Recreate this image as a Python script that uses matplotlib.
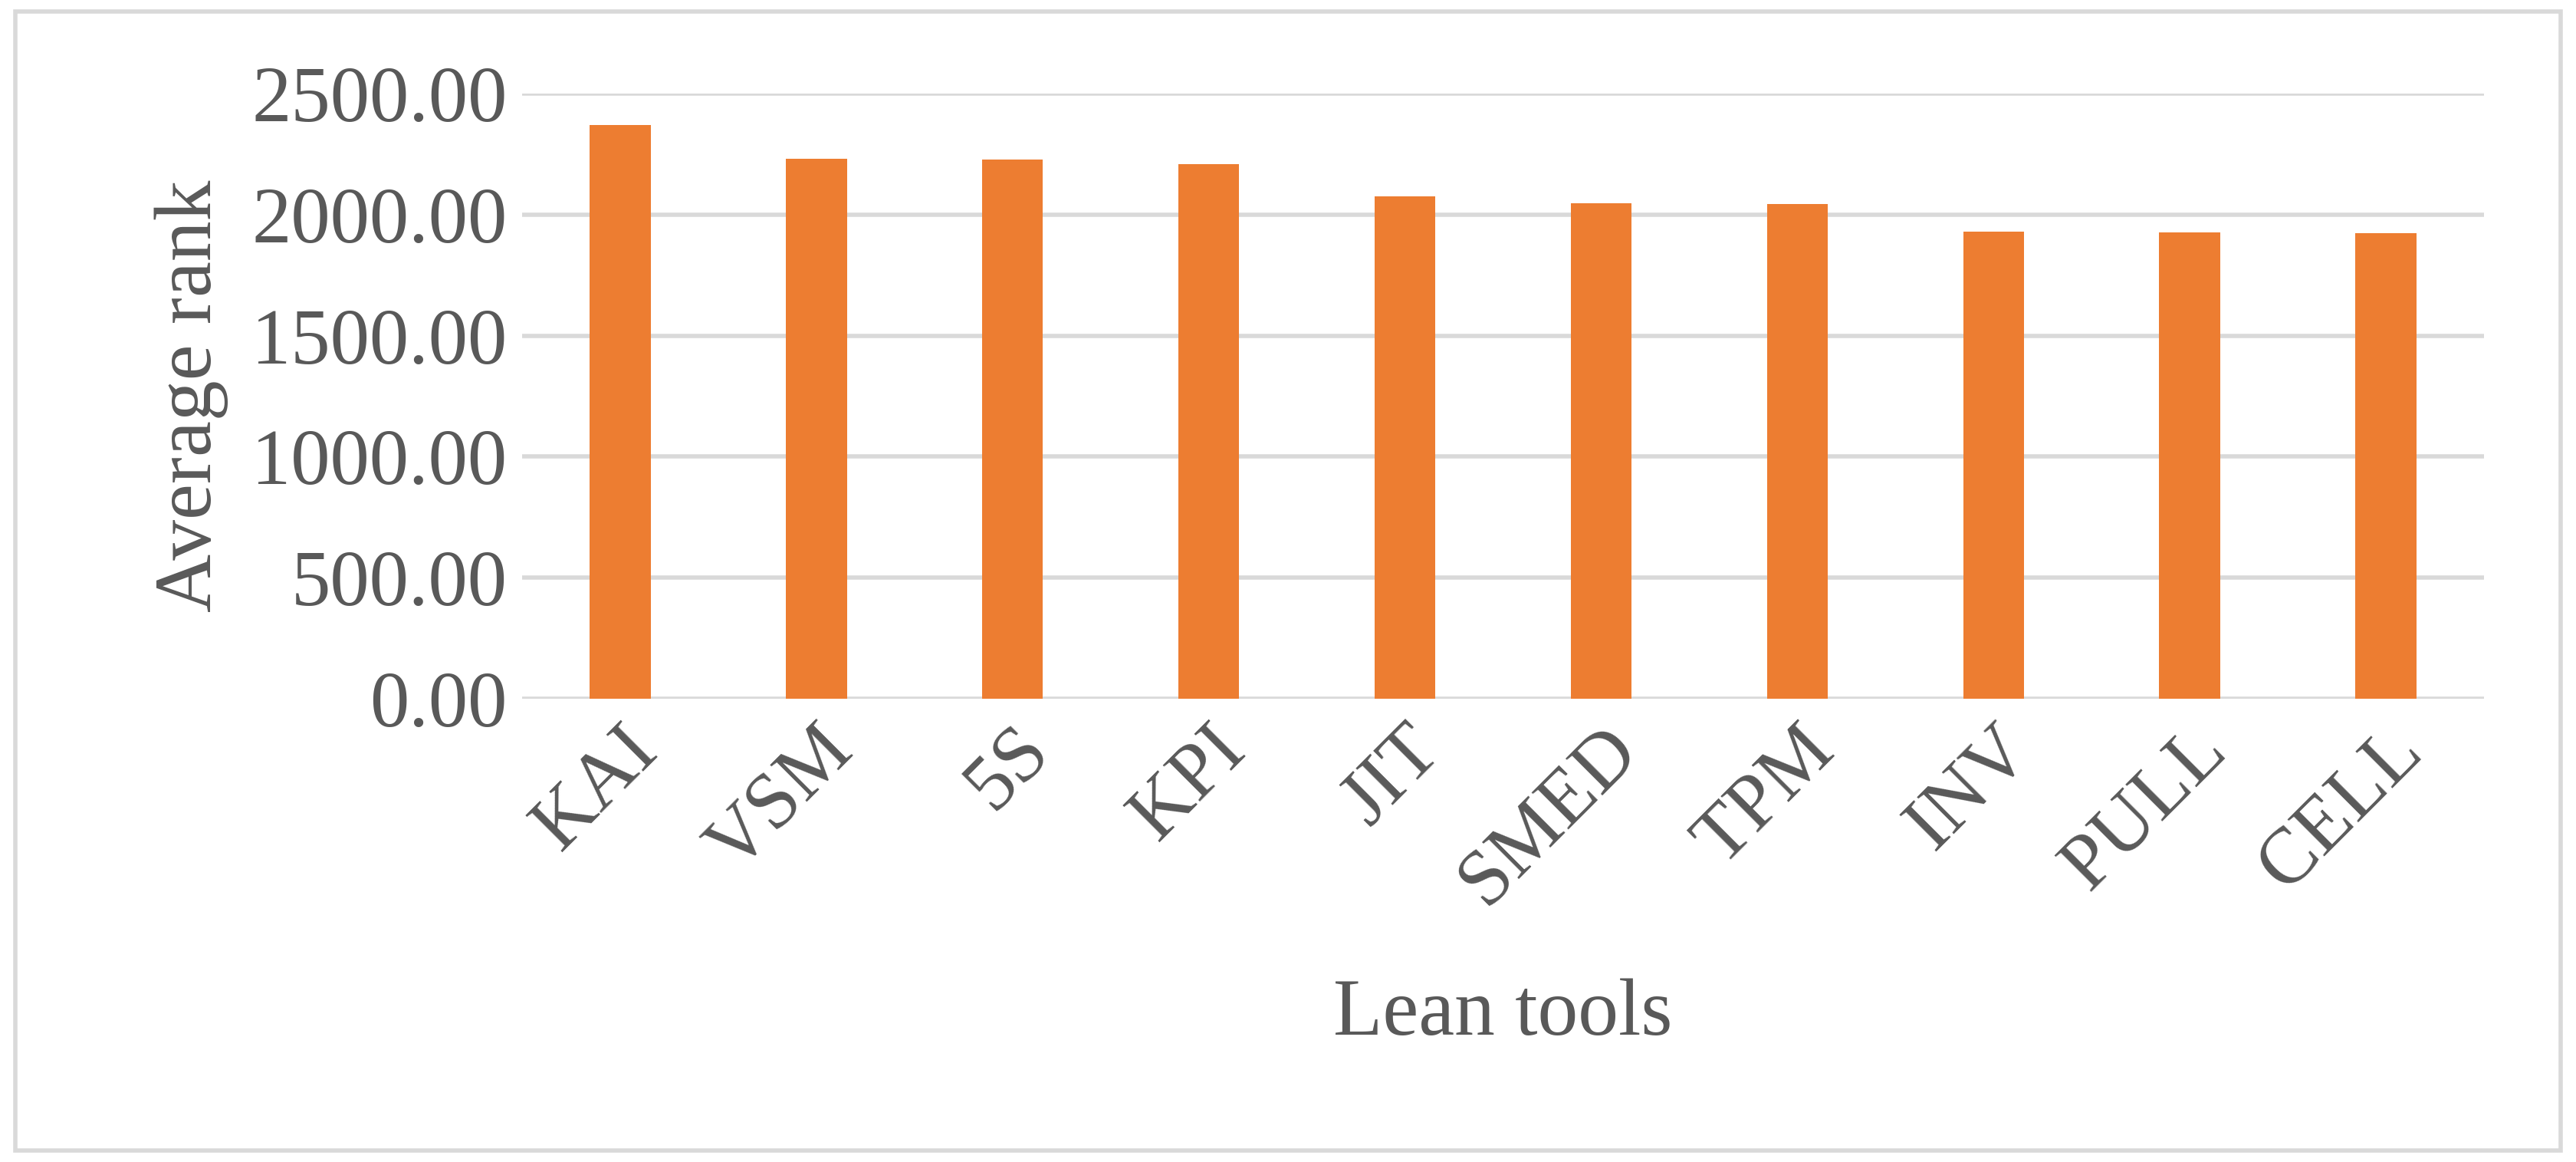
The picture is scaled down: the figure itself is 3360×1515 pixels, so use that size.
import matplotlib.pyplot as plt
from matplotlib.patches import Rectangle

tools = ["KAI", "VSM", "5S", "KPI", "JIT", "SMED", "TPM", "INV", "PULL", "CELL"]
avg_rank = [2371, 2231, 2228, 2210, 2076, 2047, 2045, 1930, 1928, 1922]
yticks = [0, 500, 1000, 1500, 2000, 2500]

grey = "#595959"
plt.rcParams["font.family"] = ["Liberation Serif", "DejaVu Serif"]

fig = plt.figure(figsize=(33.6, 15.15), dpi=100)
ax = fig.add_axes([681 / 3360, 1 - 911 / 1515, (3240 - 681) / 3360, (911 - 122) / 1515])

x = range(len(tools))
ax.bar(x, avg_rank, width=0.31, color="#ED7D31", zorder=3)
ax.set_xlim(-0.5, len(tools) - 0.5)
ax.set_ylim(0, 2500)
ax.set_yticks(yticks)
ax.set_yticklabels([f"{v:.2f}" for v in yticks])
ax.set_xticks(list(x))
ax.set_xticklabels(tools, rotation=45, ha="right", rotation_mode="anchor")
ax.tick_params(axis="both", length=0, labelsize=74, labelcolor=grey, pad=14)
ax.grid(axis="y", color="#D9D9D9", lw=4, zorder=0)
for s in ax.spines.values():
    s.set_visible(False)

ax.set_ylabel("Average rank", fontsize=76, color=grey, labelpad=22)
ax.set_xlabel("Lean tools", fontsize=76, color=grey, labelpad=55)

fig.patches.append(Rectangle((0.006, 0.01), 0.988, 0.98, transform=fig.transFigure,
                             fill=False, edgecolor="#D9D9D9", lw=4))

fig.savefig("out.png", dpi=100)
